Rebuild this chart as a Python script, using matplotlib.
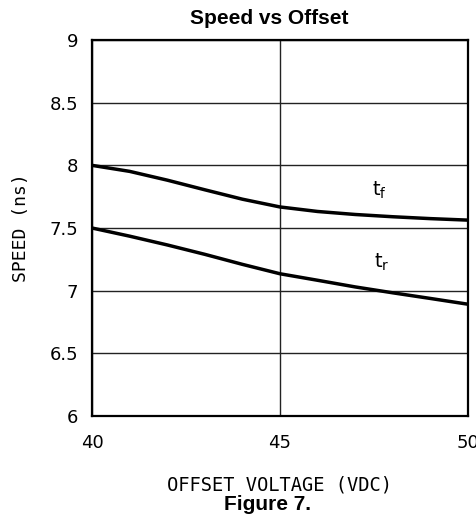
import numpy as np
import matplotlib.pyplot as plt

# values
offset = [40, 41, 42, 43, 44, 45, 46, 47, 48, 49, 50]
t_f = [8.0, 7.952, 7.882, 7.805, 7.73, 7.668, 7.632, 7.608, 7.59, 7.575, 7.563]
t_r = [7.5, 7.435, 7.365, 7.29, 7.21, 7.135, 7.083, 7.03, 6.983, 6.938, 6.892]

fig = plt.figure(figsize=(4.77, 5.2), dpi=100)
ax = fig.add_axes([0.193, 0.2, 0.788, 0.723])

ax.plot(offset, t_f, color='black', lw=2.5, solid_capstyle='butt', solid_joinstyle='round')
ax.plot(offset, t_r, color='black', lw=2.5, solid_capstyle='butt', solid_joinstyle='round')

ax.set_xlim(40, 50)
ax.set_ylim(6, 9)
ax.set_xticks([40, 45, 50])
ax.set_yticks([6, 6.5, 7, 7.5, 8, 8.5, 9])
ax.set_yticklabels(['6', '6.5', '7', '7.5', '8', '8.5', '9'])
ax.tick_params(length=0, labelsize=13, colors='black')
ax.tick_params(axis='y', pad=10)
ax.tick_params(axis='x', pad=13)
ax.grid(True, color='#222222', lw=1.0)
ax.set_axisbelow(True)
for s in ax.spines.values():
    s.set_linewidth(1.6)

ax.text(47.65, 7.8, r'$\mathregular{t_f}$', fontsize=14, ha='center', va='center')
ax.text(47.7, 7.23, r'$\mathregular{t_r}$', fontsize=14, ha='center', va='center')

ax.set_xlabel('OFFSET VOLTAGE (VDC)', family='DejaVu Sans Mono', fontsize=13.5, labelpad=17)
ax.set_ylabel('SPEED (ns)', family='DejaVu Sans Mono', fontsize=13, labelpad=14)

fig.text(0.564, 0.965, 'Speed vs Offset', ha='center', va='center',
         family='Liberation Sans', fontweight='bold', fontsize=15)
fig.text(0.56, 0.029, 'Figure 7.', ha='center', va='center',
         family='Liberation Sans', fontweight='bold', fontsize=15)

fig.savefig('out.png', dpi=100)
